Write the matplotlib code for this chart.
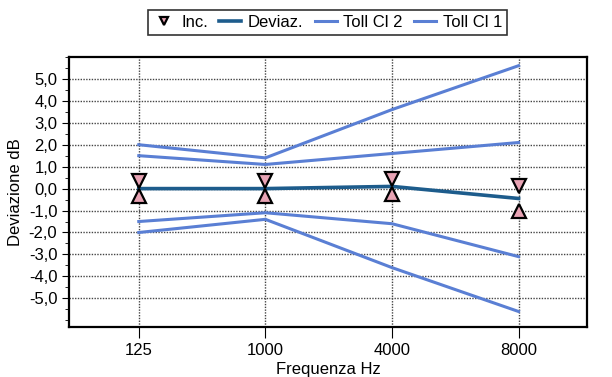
import numpy as np
import matplotlib.pyplot as plt
from matplotlib.ticker import MultipleLocator, FuncFormatter

plt.rcParams['font.family'] = ['Liberation Sans', 'DejaVu Sans']

freqs = ['125', '1000', '4000', '8000']
deviaz = [0.0, 0.0, 0.1, -0.45]
inc_up = [0.35, 0.35, 0.45, 0.1]      # upper uncertainty marker
inc_low = [-0.35, -0.35, -0.25, -1.0]  # lower uncertainty marker
cl2_up = [2.0, 1.4, 3.6, 5.6]
cl2_low = [-2.0, -1.4, -3.6, -5.6]
cl1_up = [1.5, 1.1, 1.6, 2.1]
cl1_low = [-1.5, -1.1, -1.6, -3.1]

x = np.arange(len(freqs))
dark = '#1d5c8c'
light = '#5a7fd4'

fig = plt.figure(figsize=(6.12, 3.77), dpi=100)
ax = fig.add_axes([0.113, 0.133, 0.846, 0.716])

ax.plot(x, cl2_up, color=light, lw=2.2, label='Toll Cl 2')
ax.plot(x, cl2_low, color=light, lw=2.2)
ax.plot(x, cl1_up, color=light, lw=2.2, label='Toll Cl 1')
ax.plot(x, cl1_low, color=light, lw=2.2)
ax.plot(x, deviaz, color=dark, lw=2.6, label='Deviaz.')
ax.plot(x, inc_up, ls='none', marker='v', ms=10, mfc='#e8a3b4', mec='black', mew=1.6, label='Inc.')
ax.plot(x, inc_low, ls='none', marker='^', ms=10, mfc='#e8a3b4', mec='black', mew=1.6)

ax.set_xlim(-0.55, 3.54)
ax.set_ylim(-6.3, 6.0)
ax.set_xticks(x)
ax.set_xticklabels(freqs)
ax.yaxis.set_minor_locator(MultipleLocator(0.5))
ax.yaxis.set_major_formatter(FuncFormatter(lambda v, p: f'{v:.1f}'.replace('.', ',').replace('-0,0', '0,0')))
ax.set_yticks(np.arange(-5, 6, 1))
ax.tick_params(axis='both', labelsize=12, length=5, width=0.8)
ax.tick_params(axis='y', which='minor', length=3)
ax.tick_params(axis='x', length=8)
ax.grid(True, color='#444444', ls=(0, (1, 1)), lw=1.0)
for s in ax.spines.values():
    s.set_linewidth(1.6)

ax.set_xlabel('Frequenza Hz', fontsize=12, labelpad=3)
ax.set_ylabel('Deviazione dB', fontsize=12, labelpad=4)

h, l = ax.get_legend_handles_labels()
order = [3, 2, 0, 1]
leg = fig.legend([h[i] for i in order], [l[i] for i in order], ncol=4,
                 loc='center', bbox_to_anchor=(0.535, 0.94), fontsize=12,
                 frameon=True, fancybox=False, edgecolor='black',
                 handlelength=1.3, handletextpad=0.4, columnspacing=0.7,
                 borderpad=0.3, markerscale=0.6)
leg.get_frame().set_linewidth(1.2)

fig.savefig('out.png', dpi=100)
